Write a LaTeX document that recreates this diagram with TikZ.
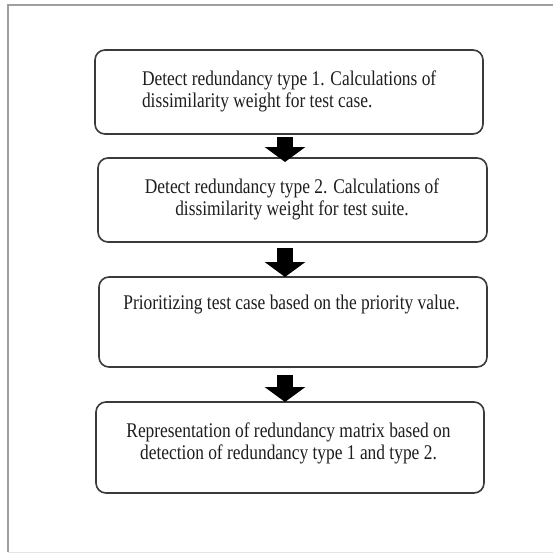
\documentclass[tikz,border=0pt]{standalone}
\usepackage{fontspec}
\setmainfont{Liberation Serif}
\usepackage{graphicx}
\usetikzlibrary{arrows.meta,calc}
\definecolor{boxline}{HTML}{3A3A3A}
\definecolor{txtcol}{HTML}{1E1E1E}
\tikzset{
  stepbox/.style={draw=boxline, line width=1.6pt, rounded corners=10pt, inner sep=0pt, outer sep=0pt},
  txt/.style={inner sep=0pt, outer sep=0pt, text=txtcol, font=\fontsize{17.4}{19}\selectfont},
  flowarrow/.style={line width=16pt, -{Triangle[width=40pt,length=15pt]}, black}
}
\newcommand{\stretchtxt}[2]{\scalebox{1}[1.2]{\begin{tabular}[t]{@{}#1@{}}#2\end{tabular}}}
\begin{document}
\begin{tikzpicture}[x=1pt,y=-1pt]
\useasboundingbox (0,0) rectangle (553,554);
\fill[white] (0,0) rectangle (553,554);
% outer frame
\draw[gray!75, line width=1.5pt] (8,552) -- (8,5) -- (556,5);
\draw[gray!20, line width=1pt] (8,552) -- (556,552);
\coordinate (ax) at (285,0);
% boxes
\node[stepbox, minimum width=388pt, minimum height=84pt] (b1) at (289,92) {};
\node[stepbox, minimum width=389pt, minimum height=84pt] (b2) at (292.5,200) {};
\node[stepbox, minimum width=388pt, minimum height=90pt] (b3) at (293,322) {};
\node[stepbox, minimum width=388pt, minimum height=91pt] (b4) at (290,447.5) {};
% texts
\node[txt, anchor=base west] (t1) at (142,85) {\stretchtxt{l}{Detect redundancy type 1. Calculations of\\dissimilarity weight for test case.}};
\node[txt, anchor=base] (t2) at (292,193) {\stretchtxt{c}{Detect redundancy type 2. Calculations of\\dissimilarity weight for test suite.}};
\node[txt, anchor=base] (t3) at (291.5,309) {\stretchtxt{c}{Prioritizing test case based on the priority value.}};
\node[txt, anchor=base] (t4) at (288.5,437) {\stretchtxt{c}{Representation of redundancy matrix based on\\detection of redundancy type 1 and type 2.}};
% arrows
\draw[flowarrow] ($(b1.south -| ax)+(0,3)$) -- ($(b2.north -| ax)+(0,4)$);
\draw[flowarrow] ($(b2.south -| ax)+(0,6)$) -- ($(b3.north -| ax)+(0,0)$);
\draw[flowarrow] ($(b3.south -| ax)+(0,8)$) -- ($(b4.north -| ax)+(0,0)$);
\end{tikzpicture}
\end{document}
